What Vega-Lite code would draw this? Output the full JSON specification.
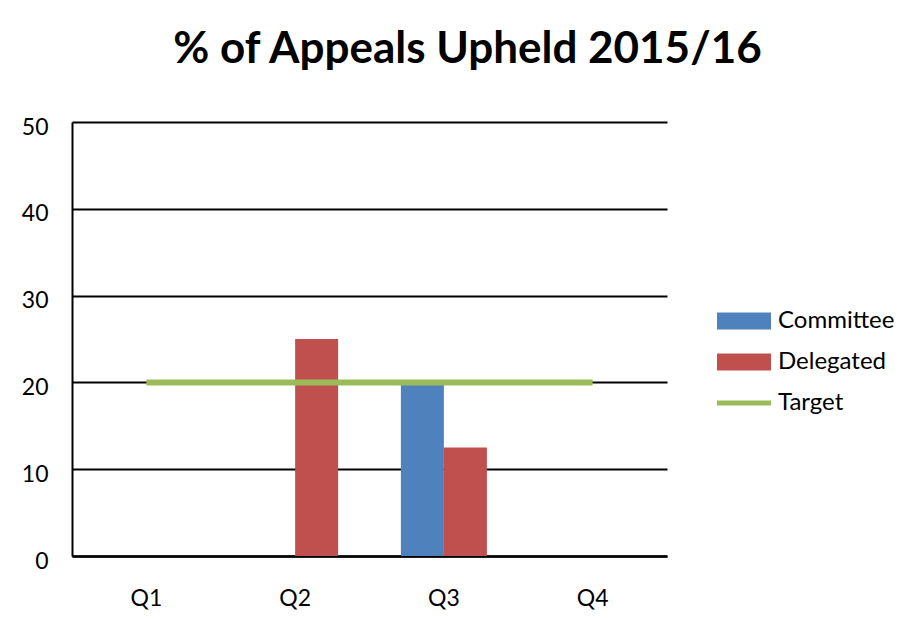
{
  "$schema": "https://vega.github.io/schema/vega-lite/v6.json",
  "width": 595,
  "height": 434,
  "autosize": "none",
  "padding": {"left": 72, "top": 122, "right": 252, "bottom": 63},
  "background": "white",
  "title": {
    "text": "% of Appeals Upheld 2015/16",
    "font": "Lato",
    "fontSize": 44,
    "fontWeight": "bold",
    "color": "black",
    "anchor": "middle",
    "dx": 98,
    "offset": 44
  },
  "config": {
    "view": {"stroke": null},
    "font": "Lato"
  },
  "datasets": {
    "bars": [
      {"quarter": "Q1", "series": "Committee", "value": 0},
      {"quarter": "Q1", "series": "Delegated", "value": 0},
      {"quarter": "Q2", "series": "Committee", "value": 0},
      {"quarter": "Q2", "series": "Delegated", "value": 25},
      {"quarter": "Q3", "series": "Committee", "value": 20},
      {"quarter": "Q3", "series": "Delegated", "value": 12.5},
      {"quarter": "Q4", "series": "Committee", "value": 0},
      {"quarter": "Q4", "series": "Delegated", "value": 0}
    ],
    "target": [
      {"quarter": "Q1", "value": 20},
      {"quarter": "Q2", "value": 20},
      {"quarter": "Q3", "value": 20},
      {"quarter": "Q4", "value": 20}
    ]
  },
  "encoding": {
    "x": {
      "field": "quarter",
      "type": "nominal",
      "sort": ["Q1", "Q2", "Q3", "Q4"],
      "scale": {"paddingInner": 0.4217, "paddingOuter": 0.2108},
      "axis": {
        "title": null,
        "labelAngle": 0,
        "labelFontSize": 23,
        "labelColor": "black",
        "labelPadding": 31,
        "ticks": false,
        "domainColor": "black",
        "domainWidth": 2.5,
        "grid": false
      }
    },
    "y": {
      "field": "value",
      "type": "quantitative",
      "scale": {"domain": [0, 50], "nice": false},
      "axis": {
        "title": null,
        "values": [0, 10, 20, 30, 40, 50],
        "labelFontSize": 23,
        "labelColor": "black",
        "labelPadding": 24,
        "labelOffset": 5,
        "ticks": false,
        "domainColor": "black",
        "domainWidth": 2,
        "gridColor": "black",
        "gridWidth": 2,
        "gridOpacity": 1
      }
    }
  },
  "layer": [
    {
      "data": {"name": "bars"},
      "mark": {"type": "bar"},
      "encoding": {
        "xOffset": {"field": "series", "type": "nominal", "sort": ["Committee", "Delegated"], "scale": {"paddingInner": 0, "paddingOuter": 0}},
        "color": {
          "field": "series",
          "type": "nominal",
          "scale": {
            "domain": ["Committee", "Delegated", "Target"],
            "range": ["#4F81BD", "#C0504D", "#9BBB59"]
          },
          "legend": {
            "title": null,
            "orient": "none",
            "legendX": 645,
            "legendY": 172,
            "symbolType": "M-1,-0.315H1V0.315H-1Z",
            "symbolSize": 2916,
            "symbolStrokeWidth": 0,
            "labelFontSize": 24,
            "labelColor": "black",
            "labelOffset": 7,
            "rowPadding": 2,
            "encode": {
              "symbols": {
                "update": {
                  "shape": {"signal": "datum.value === 'Target' ? 'M-1,-0.09H1V0.09H-1Z' : 'M-1,-0.315H1V0.315H-1Z'"}
                }
              }
            }
          }
        }
      }
    },
    {
      "data": {"name": "target"},
      "mark": {"type": "line", "color": "#9BBB59", "strokeWidth": 6},
      "encoding": {}
    }
  ]
}
